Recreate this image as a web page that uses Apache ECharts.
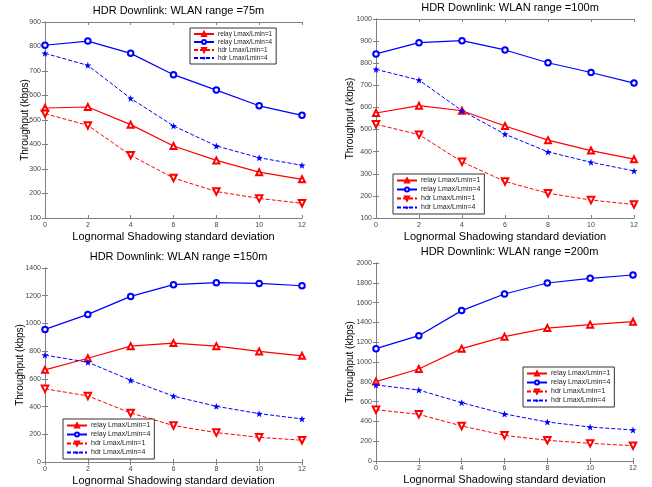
<!DOCTYPE html>
<html>
<head>
<meta charset="utf-8">
<script src="https://cdn.jsdelivr.net/npm/echarts@6/dist/echarts.min.js"></script>
<style>
  html, body { margin: 0; padding: 0; background: #fff; }
  #main { width: 652px; height: 487px; }
</style>
</head>
<body>
<div id="main"></div>
<script>
// shadowing std deviation (x axis)
const sigma = [0, 2, 4, 6, 8, 10, 12];

// WLAN range = 75m
const relay1_75 = [549, 553, 481, 394, 335, 287, 258];
const relay4_75 = [805, 822, 772, 685, 622, 558, 519];
const hdr1_75 = [526, 478, 356, 263, 208, 180, 160];
const hdr4_75 = [772, 723, 588, 476, 394, 346, 315];

// WLAN range = 100m
const relay1_100 = [575, 608, 585, 516, 452, 405, 366];
const relay4_100 = [842, 893, 902, 860, 802, 758, 710];
const hdr1_100 = [524, 477, 354, 265, 212, 181, 161];
const hdr4_100 = [772, 724, 585, 479, 399, 352, 313];

// WLAN range = 150m
const relay1_150 = [665, 749, 836, 858, 836, 798, 766];
const relay4_150 = [957, 1065, 1195, 1280, 1294, 1289, 1272];
const hdr1_150 = [528, 477, 354, 263, 212, 178, 157];
const hdr4_150 = [771, 720, 590, 475, 402, 349, 311];

// WLAN range = 200m
const relay1_200 = [802, 929, 1135, 1256, 1343, 1377, 1407];
const relay4_200 = [1135, 1266, 1519, 1687, 1798, 1845, 1879];
const hdr1_200 = [518, 471, 354, 259, 209, 178, 155];
const hdr4_200 = [768, 717, 589, 475, 394, 343, 313];

const titles = ['HDR Downlink: WLAN range =75m', 'HDR Downlink: WLAN range =100m',
  'HDR Downlink: WLAN range =150m', 'HDR Downlink: WLAN range =200m'];
const yMin = [100, 100, 0, 0];
const yMax = [900, 1000, 1400, 2000];
const yStep = [100, 100, 200, 200];
const seriesNames = ['relay Lmax/Lmin=1', 'relay Lmax/Lmin=4', 'hdr Lmax/Lmin=1', 'hdr Lmax/Lmin=4'];

const panels = [
  [relay1_75, relay4_75, hdr1_75, hdr4_75],
  [relay1_100, relay4_100, hdr1_100, hdr4_100],
  [relay1_150, relay4_150, hdr1_150, hdr4_150],
  [relay1_200, relay4_200, hdr1_200, hdr4_200]
];

const grids = [
  {left: 45, top: 22, width: 257, height: 196},
  {left: 376, top: 19, width: 258, height: 199},
  {left: 45, top: 268, width: 257, height: 194},
  {left: 376, top: 263, width: 257, height: 198}
];
const yNameGap = [15, 21, 20, 21];
const legendPos = [
  {left: 190, top: 28},
  {left: 393, top: 174},
  {left: 63, top: 419},
  {left: 523, top: 367}
];
const legendFont = [6.4, 7, 7, 7];

const star = 'path://M0,-10 L2.35,-3.24 9.51,-3.09 3.8,1.24 5.88,8.09 0,4 -5.88,8.09 -3.8,1.24 -9.51,-3.09 -2.35,-3.24 Z';
const styles = [
  {color: '#ff0000', type: 'solid', width: 1.2, symbol: 'emptyTriangle', size: 6, rotate: 0},
  {color: '#0000ff', type: 'solid', width: 1.2, symbol: 'emptyCircle', size: 5.5, rotate: 0},
  {color: '#ff0000', type: [4, 2], width: 1, symbol: 'emptyTriangle', size: 6.5, rotate: 180},
  {color: '#0000ff', type: [4, 2], width: 1, symbol: star, size: 7, rotate: 0}
];

const axisGray = '#808080';
const font = 'Arial, "Liberation Sans", sans-serif';
const plain = v => String(v);

const xAxes = [];
const yAxes = [];
const series = [];
const titleList = [];
const legends = [];

grids.forEach((g, i) => {
  // bottom + top x axes, left + right y axes to draw the closed box
  xAxes.push({
    type: 'value', gridIndex: i, min: 0, max: 12, interval: 2,
    name: 'Lognormal Shadowing standard deviation', nameLocation: 'middle', nameGap: 13,
    nameMoveOverlap: false,
    nameTextStyle: {fontSize: 11, color: '#000', fontFamily: font},
    axisLine: {lineStyle: {color: axisGray}},
    axisTick: {inside: true, length: 3, lineStyle: {color: axisGray}},
    axisLabel: {fontSize: 7, color: '#444', margin: 4, fontFamily: font, formatter: plain},
    splitLine: {show: false}
  });
  yAxes.push({
    type: 'value', gridIndex: i, min: yMin[i], max: yMax[i], interval: yStep[i],
    name: 'Throughput (kbps)', nameLocation: 'middle', nameGap: yNameGap[i],
    nameMoveOverlap: false,
    nameTextStyle: {fontSize: 10, color: '#000', fontFamily: font},
    axisLine: {lineStyle: {color: axisGray}},
    axisTick: {inside: true, length: 3, lineStyle: {color: axisGray}},
    axisLabel: {fontSize: 7, color: '#444', margin: 4, fontFamily: font, formatter: plain},
    splitLine: {show: false}
  });
  titleList.push({
    text: titles[i],
    left: g.left + g.width / 2, top: g.top - 22, textAlign: 'center',
    textStyle: {fontSize: 11, fontWeight: 'normal', color: '#000', fontFamily: font}
  });
  legends.push({
    data: seriesNames, orient: 'vertical',
    left: legendPos[i].left, top: legendPos[i].top,
    padding: [3, 4, 3, 3], itemGap: 2, itemWidth: 20, itemHeight: 5,
    borderColor: '#333', borderWidth: 1, backgroundColor: '#fff',
    textStyle: {fontSize: legendFont[i], color: '#222', fontFamily: font, padding: [0, 0, 0, -1]}
  });
  panels[i].forEach((vals, k) => {
    const st = styles[k];
    series.push({
      name: seriesNames[k], type: 'line', xAxisIndex: i, yAxisIndex: i,
      data: sigma.map((x, j) => [x, vals[j]]),
      symbol: st.symbol, symbolSize: st.size, symbolRotate: st.rotate,
      lineStyle: {color: st.color, width: st.width, type: st.type},
      itemStyle: {color: st.color, borderWidth: 0.8},
      emphasis: {disabled: true}, animation: false
    });
  });
});

grids.forEach((g, i) => {
  xAxes.push({
    type: 'value', gridIndex: i, min: 0, max: 12, interval: 2, position: 'top',
    axisLine: {lineStyle: {color: axisGray}},
    axisTick: {inside: true, length: 3, lineStyle: {color: axisGray}},
    axisLabel: {show: false}, splitLine: {show: false}
  });
  yAxes.push({
    type: 'value', gridIndex: i, min: yMin[i], max: yMax[i], interval: yStep[i], position: 'right',
    axisLine: {lineStyle: {color: axisGray}},
    axisTick: {inside: true, length: 3, lineStyle: {color: axisGray}},
    axisLabel: {show: false}, splitLine: {show: false}
  });
});

const option = {
  backgroundColor: '#fff',
  animation: false,
  title: titleList,
  legend: legends,
  grid: grids,
  xAxis: xAxes,
  yAxis: yAxes,
  series: series
};

const chart = echarts.init(document.getElementById('main'));
chart.setOption(option);
</script>
</body>
</html>
